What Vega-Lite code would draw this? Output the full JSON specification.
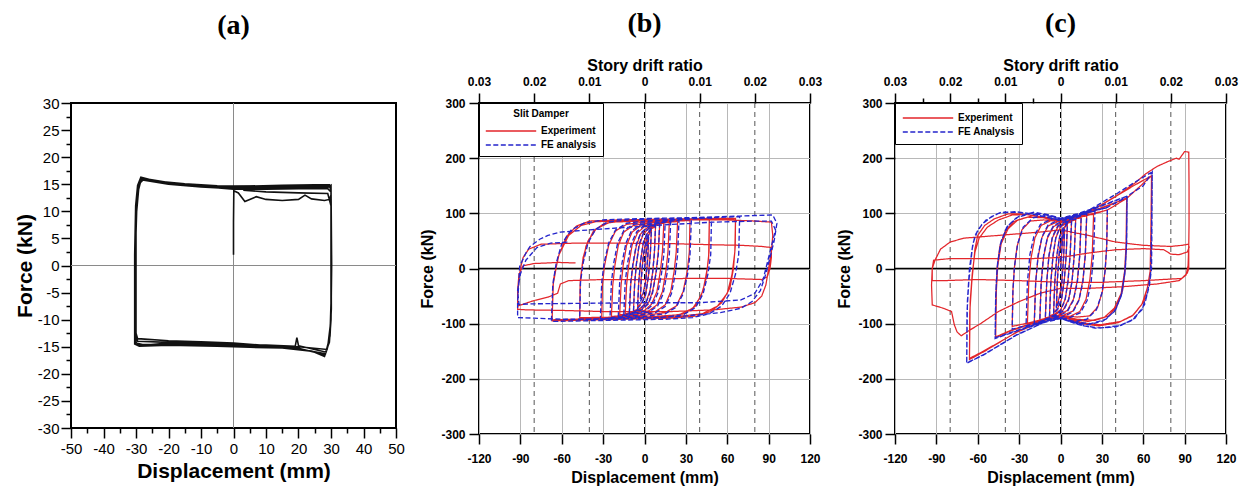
{
"$schema":"https://vega.github.io/schema/vega-lite/v6.json",
"background":"white",
"padding":{"left":13,"top":9,"right":4,"bottom":0},
"spacing":12,
"resolve":{"scale":{"color":"independent","strokeDash":"independent"},"legend":{"color":"independent","strokeDash":"independent"}},
"datasets":{
"a":[{"x":0,"y":2},{"x":0,"y":8},{"x":0.1,"y":13.8},{"x":1.5,"y":13.4},{"x":3.5,"y":11.8},{"x":5,"y":12.2},{"x":7,"y":12.7},{"x":10,"y":12.2},{"x":15,"y":12},{"x":20,"y":12.2},{"x":22,"y":13},{"x":24,"y":12.3},{"x":28,"y":12},{"x":29.5,"y":12.2},{"x":30,"y":13},{"x":30,"y":14.2},
{"x":30,"y":5},{"x":30.1,"y":-5},{"x":29.8,"y":-11},{"x":29,"y":-15},{"x":28,"y":-16.8},{"x":25,"y":-16},{"x":20,"y":-15.3},{"x":15,"y":-15.1},{"x":10,"y":-15},{"x":0,"y":-14.9},{"x":-10,"y":-14.7},{"x":-20,"y":-14.5},{"x":-28,"y":-14.6},{"x":-30,"y":-14.3},{"x":-30.2,"y":-5},{"x":-30.1,"y":5},{"x":-29.8,"y":10},{"x":-29.2,"y":14},{"x":-28.3,"y":16.2},{"x":-27,"y":16},{"x":-20,"y":15.3},{"x":-10,"y":14.7},{"x":0,"y":14.4},{"x":10,"y":14.4},{"x":20,"y":14.5},{"x":29,"y":14.4},{"x":30,"y":14.8},
{"x":30.2,"y":0},{"x":30,"y":-10},{"x":29.5,"y":-14},{"x":28.5,"y":-16},{"x":25,"y":-15.5},{"x":20,"y":-14.8},{"x":19.5,"y":-13.3},{"x":19,"y":-14.9},{"x":10,"y":-14.7},{"x":0,"y":-14.6},{"x":-10,"y":-14.4},{"x":-20,"y":-14.2},{"x":-29.5,"y":-14},{"x":-30,"y":-13},{"x":-30,"y":6},{"x":-29.7,"y":12},{"x":-29,"y":15},{"x":-28,"y":15.8},{"x":-20,"y":15},{"x":-10,"y":14.5},{"x":0,"y":14.2},{"x":10,"y":14.3},{"x":20,"y":14.4},{"x":29.5,"y":14.6},{"x":30,"y":14},
{"x":30.1,"y":-8},{"x":29.7,"y":-13},{"x":28.8,"y":-15.5},{"x":20,"y":-15},{"x":10,"y":-14.9},{"x":0,"y":-14.6},{"x":-10,"y":-14.5},{"x":-20,"y":-14.3},{"x":-29,"y":-14.8},{"x":-30.3,"y":-14},{"x":-30.3,"y":0},{"x":-30,"y":10},{"x":-29.3,"y":14.5},{"x":-28,"y":16},{"x":-25,"y":15.6},{"x":-15,"y":14.9},{"x":0,"y":14.6},{"x":15,"y":14.8},{"x":25,"y":14.9},{"x":29,"y":14.9},{"x":30,"y":14.5},
{"x":30,"y":-9},{"x":29.5,"y":-13.5},{"x":28.3,"y":-16.3},{"x":22,"y":-15.6},{"x":10,"y":-14.8},{"x":0,"y":-14.3},{"x":-10,"y":-14.1},{"x":-20,"y":-13.9},{"x":-29.5,"y":-13.5},{"x":-30,"y":-12.5},{"x":-30,"y":8},{"x":-29.6,"y":13},{"x":-28.8,"y":15.3},{"x":-27.5,"y":15.9},{"x":-20,"y":15.1},{"x":-10,"y":14.6},{"x":0,"y":14.1},{"x":10,"y":14.1},{"x":20,"y":14.2},{"x":29,"y":14.2},{"x":30,"y":13.6},
{"x":30,"y":-10},{"x":29.5,"y":-14.2},{"x":28,"y":-16.5},{"x":24,"y":-15.8},{"x":15,"y":-15.2},{"x":5,"y":-15.1},{"x":-5,"y":-14.9},{"x":-20,"y":-14.7},{"x":-29,"y":-14.9},{"x":-30.4,"y":-14.5},{"x":-30.4,"y":2},{"x":-30.1,"y":11},{"x":-29.5,"y":14.8},{"x":-28.5,"y":16.3},{"x":-24,"y":15.6},{"x":-15,"y":15.1},{"x":-5,"y":14.7},{"x":5,"y":14.6},{"x":20,"y":14.7},{"x":29.5,"y":14.9},{"x":30,"y":14},{"x":30,"y":11},{"x":29,"y":13.3},{"x":20,"y":13.4},{"x":10,"y":13.6},{"x":3,"y":13.9}],
"bE":[{"x":0,"y":0},{"x":2,"y":45},{"x":3,"y":58},{"x":2.5,"y":20},{"x":1,"y":-20},{"x":-1,"y":-45},{"x":-3,"y":-55},{"x":-2.5,"y":-20},{"x":-1,"y":20},{"x":1,"y":48},{"x":3,"y":60},
{"x":5,"y":70},{"x":4.3,"y":30},{"x":3,"y":-10},{"x":1,"y":-45},{"x":-2,"y":-62},{"x":-5,"y":-70},{"x":-4.3,"y":-30},{"x":-3,"y":10},{"x":-1,"y":45},{"x":2,"y":63},{"x":5,"y":72},
{"x":8,"y":76},{"x":7.2,"y":30},{"x":6,"y":-5},{"x":4,"y":-40},{"x":1,"y":-62},{"x":-3,"y":-72},{"x":-8,"y":-77},{"x":-7.2,"y":-30},{"x":-6,"y":5},{"x":-4,"y":40},{"x":-1,"y":62},{"x":3,"y":72},{"x":8,"y":78},
{"x":11,"y":80},{"x":10,"y":30},{"x":8.5,"y":-5},{"x":6,"y":-40},{"x":3,"y":-62},{"x":-2,"y":-74},{"x":-11,"y":-80},{"x":-10,"y":-30},{"x":-8.5,"y":5},{"x":-6,"y":40},{"x":-3,"y":62},{"x":2,"y":74},{"x":11,"y":81},
{"x":14,"y":82},{"x":13,"y":30},{"x":11.5,"y":-5},{"x":9,"y":-42},{"x":5,"y":-65},{"x":0,"y":-76},{"x":-14,"y":-82},{"x":-13,"y":-30},{"x":-11.5,"y":5},{"x":-9,"y":42},{"x":-5,"y":65},{"x":0,"y":76},{"x":14,"y":83},
{"x":18,"y":83},{"x":17,"y":30},{"x":15.5,"y":-5},{"x":13,"y":-42},{"x":9,"y":-66},{"x":3,"y":-77},{"x":-18,"y":-84},{"x":-17,"y":-30},{"x":-15.5,"y":5},{"x":-13,"y":42},{"x":-9,"y":66},{"x":-3,"y":77},{"x":18,"y":84},
{"x":24,"y":85},{"x":23,"y":30},{"x":21.5,"y":-5},{"x":19,"y":-42},{"x":15,"y":-66},{"x":8,"y":-78},{"x":-5,"y":-83},{"x":-24,"y":-87},{"x":-23,"y":-30},{"x":-21.5,"y":5},{"x":-19,"y":42},{"x":-15,"y":66},{"x":-8,"y":78},{"x":5,"y":83},{"x":24,"y":86},
{"x":33,"y":87},{"x":32.5,"y":30},{"x":31,"y":-5},{"x":28,"y":-42},{"x":23,"y":-68},{"x":15,"y":-80},{"x":0,"y":-85},{"x":-31,"y":-89},{"x":-30.5,"y":-30},{"x":-29,"y":5},{"x":-26,"y":42},{"x":-21,"y":68},{"x":-13,"y":80},{"x":0,"y":84},{"x":33,"y":88},
{"x":47,"y":89},{"x":46.8,"y":30},{"x":45.5,"y":0},{"x":42.5,"y":-40},{"x":37,"y":-68},{"x":29,"y":-82},{"x":15,"y":-87},{"x":-47,"y":-90},{"x":-46.7,"y":-30},{"x":-45.5,"y":0},{"x":-42.5,"y":40},{"x":-37,"y":68},{"x":-29,"y":82},{"x":-15,"y":86},{"x":0,"y":87},{"x":47,"y":90},
{"x":46.5,"y":20},{"x":44.5,"y":-20},{"x":41,"y":-50},{"x":35,"y":-72},{"x":25,"y":-84},{"x":0,"y":-88},{"x":-47,"y":-89},{"x":-46.5,"y":-20},{"x":-44.5,"y":20},{"x":-41,"y":50},{"x":-35,"y":72},{"x":-25,"y":84},{"x":0,"y":86},{"x":47,"y":89},
{"x":66,"y":90},{"x":65.8,"y":40},{"x":64.5,"y":0},{"x":62,"y":-35},{"x":56,"y":-62},{"x":48,"y":-78},{"x":38,"y":-86},{"x":20,"y":-90},{"x":-67,"y":-95},{"x":-66.3,"y":-30},{"x":-62.7,"y":20},{"x":-56.6,"y":58},{"x":-49.3,"y":77},{"x":-39.7,"y":86},{"x":-20,"y":88},{"x":0,"y":89},{"x":66,"y":91},
{"x":65.5,"y":30},{"x":63.5,"y":-10},{"x":60,"y":-45},{"x":53,"y":-68},{"x":42,"y":-82},{"x":20,"y":-88},{"x":-67,"y":-93},{"x":-66,"y":-20},{"x":-62,"y":25},{"x":-55,"y":60},{"x":-46,"y":78},{"x":-35,"y":85},{"x":0,"y":87},{"x":30,"y":88},
{"x":60,"y":88},{"x":80,"y":86},{"x":92,"y":84},{"x":93,"y":60},{"x":92,"y":30},{"x":90,"y":0},{"x":88,"y":-30},{"x":85,"y":-50},{"x":80,"y":-62},{"x":70,"y":-70},{"x":50,"y":-75},{"x":20,"y":-78},{"x":-30,"y":-78},{"x":-60,"y":-76},{"x":-85,"y":-75},{"x":-92,"y":-74},{"x":-92,"y":-50},{"x":-91,"y":-20},{"x":-90,"y":0},{"x":-88,"y":20},{"x":-84,"y":35},{"x":-75,"y":44},{"x":-50,"y":46},{"x":-20,"y":46},{"x":20,"y":45},{"x":50,"y":43},{"x":70,"y":42},{"x":85,"y":40},{"x":92,"y":38},{"x":92,"y":20},{"x":91,"y":0},{"x":89,"y":-15},{"x":85,"y":-20},{"x":60,"y":-18},{"x":30,"y":-18},{"x":0,"y":-20},{"x":-30,"y":-20},{"x":-55,"y":-22},{"x":-61,"y":-28},{"x":-63,"y":-45},{"x":-70,"y":-52},{"x":-80,"y":-58},{"x":-92,"y":-68},{"x":-92,"y":-40},{"x":-91,"y":-10},{"x":-88,"y":5},{"x":-80,"y":9},{"x":-62,"y":11},{"x":-50,"y":10}],
"bF":[{"x":0,"y":0},{"x":2,"y":50},{"x":3,"y":62},{"x":2.3,"y":20},{"x":0.8,"y":-25},{"x":-1.2,"y":-50},{"x":-3,"y":-60},{"x":-2.3,"y":-20},{"x":-0.8,"y":25},{"x":1.2,"y":52},{"x":3,"y":63},
{"x":5,"y":72},{"x":4.2,"y":25},{"x":2.8,"y":-15},{"x":0.8,"y":-48},{"x":-2,"y":-64},{"x":-5,"y":-72},{"x":-4.2,"y":-25},{"x":-2.8,"y":15},{"x":-0.8,"y":48},{"x":2,"y":64},{"x":5,"y":74},
{"x":8,"y":78},{"x":7.1,"y":25},{"x":5.8,"y":-10},{"x":3.8,"y":-45},{"x":0.8,"y":-64},{"x":-3,"y":-73},{"x":-8,"y":-79},{"x":-7.1,"y":-25},{"x":-5.8,"y":10},{"x":-3.8,"y":45},{"x":-0.8,"y":64},{"x":3,"y":73},{"x":8,"y":80},
{"x":11,"y":82},{"x":10,"y":25},{"x":8.3,"y":-10},{"x":5.8,"y":-45},{"x":2.8,"y":-64},{"x":-2,"y":-75},{"x":-11,"y":-82},{"x":-10,"y":-25},{"x":-8.3,"y":10},{"x":-5.8,"y":45},{"x":-2.8,"y":64},{"x":2,"y":75},{"x":11,"y":83},
{"x":15,"y":84},{"x":14,"y":25},{"x":12.3,"y":-10},{"x":9.5,"y":-46},{"x":5.5,"y":-67},{"x":0,"y":-78},{"x":-15,"y":-84},{"x":-14,"y":-25},{"x":-12.3,"y":10},{"x":-9.5,"y":46},{"x":-5.5,"y":67},{"x":0,"y":78},{"x":15,"y":85},
{"x":19,"y":85},{"x":18,"y":25},{"x":16.3,"y":-10},{"x":13.5,"y":-46},{"x":9.5,"y":-68},{"x":3,"y":-79},{"x":-19,"y":-86},{"x":-18,"y":-25},{"x":-16.3,"y":10},{"x":-13.5,"y":46},{"x":-9.5,"y":68},{"x":-3,"y":79},{"x":19,"y":86},
{"x":25,"y":87},{"x":24,"y":25},{"x":22.3,"y":-10},{"x":19.5,"y":-46},{"x":15,"y":-69},{"x":8,"y":-80},{"x":-5,"y":-85},{"x":-25,"y":-89},{"x":-24,"y":-25},{"x":-22.3,"y":10},{"x":-19.5,"y":46},{"x":-15,"y":69},{"x":-8,"y":80},{"x":5,"y":85},{"x":25,"y":88},
{"x":34,"y":89},{"x":33,"y":25},{"x":31.3,"y":-10},{"x":28,"y":-46},{"x":23,"y":-70},{"x":15,"y":-82},{"x":0,"y":-87},{"x":-32,"y":-91},{"x":-31,"y":-25},{"x":-29.3,"y":10},{"x":-26,"y":46},{"x":-21,"y":70},{"x":-13,"y":82},{"x":0,"y":86},{"x":34,"y":90},
{"x":48.6,"y":92},{"x":48,"y":25},{"x":46,"y":-10},{"x":42.5,"y":-46},{"x":37,"y":-71},{"x":28,"y":-84},{"x":12,"y":-89},{"x":-47,"y":-92},{"x":-46.4,"y":-25},{"x":-44.5,"y":10},{"x":-41,"y":46},{"x":-35.5,"y":71},{"x":-27,"y":84},{"x":-12,"y":88},{"x":10,"y":90},{"x":48.6,"y":92},
{"x":69,"y":94},{"x":68.3,"y":25},{"x":66,"y":-10},{"x":62,"y":-45},{"x":56,"y":-68},{"x":47,"y":-82},{"x":35,"y":-89},{"x":15,"y":-92},{"x":-67.5,"y":-96},{"x":-66.5,"y":-30},{"x":-64,"y":10},{"x":-60,"y":45},{"x":-53,"y":70},{"x":-44,"y":82},{"x":-30,"y":88},{"x":-10,"y":90},{"x":30,"y":92},{"x":69,"y":95},
{"x":80,"y":96},{"x":93,"y":97},{"x":96,"y":82},{"x":94,"y":50},{"x":91,"y":20},{"x":88,"y":-10},{"x":84,"y":-40},{"x":78,"y":-60},{"x":70,"y":-72},{"x":55,"y":-80},{"x":30,"y":-86},{"x":0,"y":-90},{"x":-30,"y":-92},{"x":-60,"y":-92},{"x":-80,"y":-90},{"x":-92,"y":-89},{"x":-92,"y":-60},{"x":-91,"y":-20},{"x":-90.5,"y":4},{"x":-86,"y":28},{"x":-83,"y":40},{"x":-76,"y":53},{"x":-70,"y":60},{"x":-61,"y":66},{"x":-40,"y":70},{"x":-10,"y":75},{"x":20,"y":80},{"x":50,"y":84},{"x":80,"y":86},{"x":92,"y":86},{"x":95,"y":70},{"x":92,"y":40},{"x":89,"y":10},{"x":86,"y":-20},{"x":80,"y":-45},{"x":70,"y":-57},{"x":40,"y":-62},{"x":0,"y":-62},{"x":-40,"y":-63},{"x":-80,"y":-64},{"x":-91,"y":-65},{"x":-92,"y":-40},{"x":-90,"y":-10},{"x":-86,"y":15},{"x":-78,"y":38},{"x":-68,"y":46},{"x":-55,"y":48}],
"cE":[{"x":0,"y":0},{"x":1.5,"y":50},{"x":3,"y":70},{"x":2.3,"y":20},{"x":0.8,"y":-30},{"x":-1.5,"y":-58},{"x":-3,"y":-70},{"x":-2.3,"y":-20},{"x":-0.8,"y":30},{"x":1.5,"y":60},{"x":3,"y":74},
{"x":5,"y":80},{"x":4.2,"y":25},{"x":2.8,"y":-20},{"x":0.8,"y":-55},{"x":-2,"y":-72},{"x":-5,"y":-80},{"x":-4.2,"y":-25},{"x":-2.8,"y":20},{"x":-0.8,"y":55},{"x":2,"y":72},{"x":5,"y":82},
{"x":8,"y":84},{"x":7,"y":25},{"x":5.5,"y":-20},{"x":3.5,"y":-55},{"x":0,"y":-75},{"x":-4,"y":-82},{"x":-8,"y":-86},{"x":-7,"y":-25},{"x":-5.5,"y":20},{"x":-3.5,"y":55},{"x":0,"y":75},{"x":4,"y":82},{"x":8,"y":86},
{"x":11,"y":88},{"x":10,"y":25},{"x":8.5,"y":-20},{"x":6,"y":-55},{"x":2,"y":-75},{"x":-4,"y":-84},{"x":-11,"y":-90},{"x":-10,"y":-25},{"x":-8.5,"y":20},{"x":-6,"y":55},{"x":-2,"y":75},{"x":4,"y":84},{"x":11,"y":90},
{"x":15,"y":92},{"x":14,"y":25},{"x":12.3,"y":-20},{"x":9.5,"y":-55},{"x":5,"y":-76},{"x":-2,"y":-85},{"x":-15,"y":-93},{"x":-14,"y":-25},{"x":-12.3,"y":20},{"x":-9.5,"y":55},{"x":-5,"y":76},{"x":2,"y":85},{"x":15,"y":94},
{"x":19,"y":95},{"x":18,"y":25},{"x":16.3,"y":-20},{"x":13.5,"y":-56},{"x":9,"y":-77},{"x":1,"y":-86},{"x":-10,"y":-90},{"x":-19,"y":-96},{"x":-18,"y":-25},{"x":-16.3,"y":20},{"x":-13.5,"y":56},{"x":-9,"y":77},{"x":-1,"y":86},{"x":10,"y":90},{"x":19,"y":97},
{"x":24,"y":98},{"x":23,"y":25},{"x":21.3,"y":-20},{"x":18.5,"y":-56},{"x":14,"y":-78},{"x":6,"y":-88},{"x":-5,"y":-90},{"x":-15,"y":-96},{"x":-24,"y":-100},{"x":-23,"y":-25},{"x":-21.3,"y":20},{"x":-18.5,"y":56},{"x":-14,"y":78},{"x":-6,"y":88},{"x":5,"y":90},{"x":15,"y":95},{"x":24,"y":100},
{"x":34,"y":106},{"x":33.5,"y":40},{"x":32.5,"y":0},{"x":30.5,"y":-40},{"x":27,"y":-70},{"x":21,"y":-86},{"x":12,"y":-88},{"x":0,"y":-85},{"x":-12,"y":-92},{"x":-24,"y":-99},{"x":-35,"y":-105},{"x":-34.5,"y":-40},{"x":-33.5,"y":0},{"x":-31.5,"y":40},{"x":-28,"y":70},{"x":-22,"y":86},{"x":-12,"y":88},{"x":0,"y":85},{"x":12,"y":92},{"x":24,"y":99},{"x":34,"y":106},
{"x":48,"y":127},{"x":47.8,"y":50},{"x":47,"y":0},{"x":45,"y":-40},{"x":41,"y":-68},{"x":35,"y":-86},{"x":25,"y":-94},{"x":12,"y":-92},{"x":0,"y":-86},{"x":-12,"y":-94},{"x":-24,"y":-102},{"x":-36,"y":-112},{"x":-47,"y":-124},{"x":-46.8,"y":-50},{"x":-46,"y":0},{"x":-44,"y":40},{"x":-40,"y":68},{"x":-34,"y":85},{"x":-24,"y":93},{"x":-12,"y":92},{"x":0,"y":86},{"x":12,"y":94},{"x":24,"y":104},{"x":36,"y":115},{"x":48,"y":128},
{"x":47.5,"y":40},{"x":46.5,"y":-5},{"x":44,"y":-45},{"x":39,"y":-72},{"x":32,"y":-88},{"x":20,"y":-96},{"x":8,"y":-92},{"x":0,"y":-86},{"x":-12,"y":-94},{"x":-24,"y":-103},{"x":-36,"y":-113},{"x":-47,"y":-125},{"x":-46.5,"y":-40},{"x":-45.5,"y":5},{"x":-43,"y":45},{"x":-38,"y":72},{"x":-31,"y":88},{"x":-20,"y":96},{"x":-8,"y":92},{"x":0,"y":86},{"x":12,"y":95},{"x":24,"y":105},{"x":36,"y":116},{"x":48,"y":127},
{"x":66,"y":168},{"x":65.8,"y":80},{"x":65.5,"y":0},{"x":64,"y":-24},{"x":60.5,"y":-60},{"x":53,"y":-84},{"x":43.5,"y":-96},{"x":29,"y":-102},{"x":17,"y":-99},{"x":5,"y":-90},{"x":0,"y":-85},{"x":-9.5,"y":-90},{"x":-19,"y":-102},{"x":-31,"y":-114},{"x":-43,"y":-132},{"x":-55,"y":-150},{"x":-66,"y":-165},{"x":-65.8,"y":-80},{"x":-64.3,"y":-24},{"x":-62,"y":36},{"x":-60,"y":60},{"x":-55,"y":78},{"x":-48,"y":90},{"x":-38,"y":99},{"x":-29,"y":99},{"x":-19,"y":96},{"x":-9.5,"y":90},{"x":0,"y":84},{"x":10,"y":90},{"x":20,"y":102},{"x":29,"y":114},{"x":41,"y":132},{"x":53,"y":150},{"x":63,"y":164},{"x":66,"y":168},
{"x":65.5,"y":60},{"x":65,"y":-5},{"x":63,"y":-35},{"x":59,"y":-65},{"x":52,"y":-86},{"x":42,"y":-98},{"x":28,"y":-104},{"x":15,"y":-100},{"x":4,"y":-90},{"x":0,"y":-86},{"x":-10,"y":-91},{"x":-20,"y":-103},{"x":-32,"y":-116},{"x":-44,"y":-133},{"x":-56,"y":-150},{"x":-66,"y":-163},
{"x":-65.5,"y":-60},{"x":-64,"y":-10},{"x":-62,"y":30},{"x":-59,"y":55},{"x":-53,"y":75},{"x":-45,"y":88},{"x":-35,"y":97},{"x":-25,"y":98},{"x":-12,"y":93},{"x":0,"y":86},{"x":10,"y":92},{"x":20,"y":104},{"x":30,"y":116},{"x":42,"y":134},{"x":54,"y":155},{"x":62,"y":172},{"x":70,"y":185},{"x":78,"y":194},{"x":84,"y":200},{"x":86,"y":198},{"x":88,"y":205},{"x":90,"y":212},{"x":93,"y":211},
{"x":93.2,"y":150},{"x":93.2,"y":80},{"x":93,"y":42},{"x":92.5,"y":5},{"x":91,"y":-12},{"x":86,"y":-22},{"x":70,"y":-28},{"x":45,"y":-33},{"x":20,"y":-36},{"x":0,"y":-36},{"x":-15,"y":-45},{"x":-30,"y":-60},{"x":-45,"y":-78},{"x":-58,"y":-100},{"x":-66,"y":-112},{"x":-72,"y":-122},{"x":-75,"y":-115},{"x":-77,"y":-102},{"x":-79,"y":-78},{"x":-85,"y":-72},{"x":-93,"y":-66},{"x":-93.5,"y":-30},{"x":-93,"y":0},{"x":-91,"y":15},{"x":-87,"y":35},{"x":-80,"y":48},{"x":-70,"y":55},{"x":-55,"y":58},{"x":-35,"y":62},{"x":-15,"y":66},{"x":0,"y":70},{"x":20,"y":60},{"x":40,"y":48},{"x":60,"y":42},{"x":80,"y":40},{"x":88,"y":42},{"x":93,"y":44},
{"x":93,"y":0},{"x":92,"y":-8},{"x":88,"y":-18},{"x":60,"y":-22},{"x":30,"y":-25},{"x":0,"y":-25},{"x":-30,"y":-22},{"x":-60,"y":-20},{"x":-85,"y":-22},{"x":-93,"y":-22},{"x":-93,"y":0},{"x":-92,"y":15},{"x":-80,"y":18},{"x":-50,"y":18},{"x":-20,"y":18},{"x":0,"y":20},{"x":20,"y":28},{"x":40,"y":34},{"x":60,"y":36},{"x":75,"y":34},{"x":80,"y":26},{"x":86,"y":25},{"x":92,"y":30},{"x":93.5,"y":40}],
"cF":[{"x":0,"y":0},{"x":1.5,"y":55},{"x":3,"y":72},{"x":2.2,"y":20},{"x":0.7,"y":-35},{"x":-1.5,"y":-62},{"x":-3,"y":-72},{"x":-2.2,"y":-20},{"x":-0.7,"y":35},{"x":1.5,"y":62},{"x":3,"y":75},
{"x":5,"y":82},{"x":4.1,"y":25},{"x":2.6,"y":-25},{"x":0.6,"y":-58},{"x":-2,"y":-74},{"x":-5,"y":-82},{"x":-4.1,"y":-25},{"x":-2.6,"y":25},{"x":-0.6,"y":58},{"x":2,"y":74},{"x":5,"y":84},
{"x":8,"y":86},{"x":7,"y":25},{"x":5.4,"y":-25},{"x":3.2,"y":-58},{"x":0,"y":-77},{"x":-4,"y":-84},{"x":-8,"y":-88},{"x":-7,"y":-25},{"x":-5.4,"y":25},{"x":-3.2,"y":58},{"x":0,"y":77},{"x":4,"y":84},{"x":8,"y":88},
{"x":11,"y":90},{"x":10,"y":25},{"x":8.3,"y":-25},{"x":5.8,"y":-58},{"x":2,"y":-77},{"x":-4,"y":-86},{"x":-11,"y":-92},{"x":-10,"y":-25},{"x":-8.3,"y":25},{"x":-5.8,"y":58},{"x":-2,"y":77},{"x":4,"y":86},{"x":11,"y":92},
{"x":15,"y":95},{"x":14,"y":25},{"x":12.2,"y":-25},{"x":9.3,"y":-58},{"x":5,"y":-78},{"x":-2,"y":-87},{"x":-15,"y":-96},{"x":-14,"y":-25},{"x":-12.2,"y":25},{"x":-9.3,"y":58},{"x":-5,"y":78},{"x":2,"y":87},{"x":15,"y":97},
{"x":19,"y":99},{"x":18,"y":25},{"x":16.2,"y":-25},{"x":13.3,"y":-58},{"x":9,"y":-79},{"x":1,"y":-88},{"x":-10,"y":-92},{"x":-19,"y":-100},{"x":-18,"y":-25},{"x":-16.2,"y":25},{"x":-13.3,"y":58},{"x":-9,"y":79},{"x":-1,"y":88},{"x":10,"y":93},{"x":19,"y":101},
{"x":25,"y":104},{"x":24,"y":25},{"x":22.2,"y":-25},{"x":19.3,"y":-58},{"x":14.5,"y":-80},{"x":6,"y":-90},{"x":-5,"y":-92},{"x":-15,"y":-99},{"x":-25,"y":-105},{"x":-24,"y":-25},{"x":-22.2,"y":25},{"x":-19.3,"y":58},{"x":-14.5,"y":80},{"x":-6,"y":90},{"x":5,"y":92},{"x":15,"y":99},{"x":25,"y":106},
{"x":34,"y":110},{"x":33.5,"y":40},{"x":32.3,"y":-5},{"x":30,"y":-45},{"x":26,"y":-75},{"x":19,"y":-92},{"x":10,"y":-96},{"x":0,"y":-90},{"x":-12,"y":-96},{"x":-24,"y":-103},{"x":-35,"y":-110},{"x":-34.5,"y":-40},{"x":-33.3,"y":5},{"x":-31,"y":45},{"x":-27,"y":75},{"x":-20,"y":92},{"x":-10,"y":96},{"x":0,"y":90},{"x":12,"y":96},{"x":24,"y":104},{"x":34,"y":111},
{"x":48.3,"y":130},{"x":48,"y":50},{"x":47,"y":0},{"x":44.5,"y":-45},{"x":40,"y":-75},{"x":33,"y":-92},{"x":22,"y":-100},{"x":10,"y":-97},{"x":0,"y":-90},{"x":-12,"y":-97},{"x":-24,"y":-106},{"x":-36,"y":-116},{"x":-47.4,"y":-126},{"x":-47,"y":-50},{"x":-46,"y":0},{"x":-43.5,"y":45},{"x":-39,"y":75},{"x":-32,"y":92},{"x":-21,"y":100},{"x":-10,"y":97},{"x":0,"y":90},{"x":12,"y":98},{"x":24,"y":108},{"x":36,"y":119},{"x":48.3,"y":131},
{"x":47.8,"y":40},{"x":46.6,"y":-10},{"x":44,"y":-50},{"x":39,"y":-78},{"x":31,"y":-95},{"x":20,"y":-102},{"x":8,"y":-97},{"x":0,"y":-91},{"x":-12,"y":-98},{"x":-24,"y":-107},{"x":-36,"y":-117},{"x":-47.4,"y":-127},{"x":-46.8,"y":-40},{"x":-45.6,"y":10},{"x":-43,"y":50},{"x":-38,"y":78},{"x":-30,"y":95},{"x":-19,"y":102},{"x":-8,"y":97},{"x":0,"y":91},{"x":12,"y":99},{"x":24,"y":109},{"x":36,"y":120},{"x":48.3,"y":131},
{"x":60,"y":150},{"x":66.5,"y":175},{"x":66.3,"y":80},{"x":66,"y":0},{"x":64.5,"y":-30},{"x":61,"y":-65},{"x":54,"y":-90},{"x":44,"y":-103},{"x":29,"y":-108},{"x":17,"y":-104},{"x":5,"y":-94},{"x":0,"y":-89},{"x":-9.5,"y":-94},{"x":-19,"y":-106},{"x":-31,"y":-119},{"x":-43,"y":-137},{"x":-55,"y":-155},{"x":-68,"y":-172},{"x":-67.8,"y":-80},{"x":-66.5,"y":-24},{"x":-64,"y":36},{"x":-62,"y":60},{"x":-57,"y":80},{"x":-50,"y":94},{"x":-43,"y":102},{"x":-32,"y":102},{"x":-21,"y":99},{"x":-10,"y":93},{"x":0,"y":87},{"x":10,"y":93},{"x":20,"y":105},{"x":29,"y":118},{"x":41,"y":136},{"x":53,"y":155},{"x":63,"y":170},{"x":66.5,"y":175},
{"x":66,"y":60},{"x":65.3,"y":-10},{"x":63,"y":-45},{"x":59,"y":-75},{"x":51,"y":-95},{"x":40,"y":-106},{"x":25,"y":-108},{"x":12,"y":-101},{"x":0,"y":-90},{"x":-10,"y":-95},{"x":-20,"y":-107},{"x":-32,"y":-121},{"x":-44,"y":-139},{"x":-56,"y":-157},{"x":-68,"y":-171},{"x":-67.5,"y":-60},{"x":-66,"y":0},{"x":-63.5,"y":45},{"x":-60,"y":70},{"x":-54,"y":88},{"x":-45,"y":100},{"x":-33,"y":103},{"x":-21,"y":99},{"x":-10,"y":93},{"x":0,"y":87}]
},
"hconcat":[
{
"width":325,"height":325,
"title":{"text":"(a)","offset":56},
"resolve":{"axis":{"x":"independent","y":"independent"}},
"layer":[
{"data":{"values":[{"y":0}]},"mark":{"type":"rule","color":"#8a8a8a","strokeWidth":1},"encoding":{"y":{"field":"y","type":"quantitative","scale":{"domain":[-30,30],"nice":false,"zero":false},"axis":{"orient":"left","values":[-27.5,-22.5,-17.5,-12.5,-7.5,-2.5,2.5,7.5,12.5,17.5,22.5,27.5],"labels":false,"title":null,"tickSize":5,"grid":false}}}},
{"data":{"values":[{"x":0}]},"mark":{"type":"rule","color":"#8a8a8a","strokeWidth":1},"encoding":{"x":{"field":"x","type":"quantitative","scale":{"domain":[-50,50],"nice":false,"zero":false},"axis":{"orient":"bottom","values":[-45,-35,-25,-15,-5,5,15,25,35,45],"labels":false,"title":null,"tickSize":5,"grid":false}}}},
{"data":{"name":"a"},"mark":{"type":"line","color":"#111111","strokeWidth":1.6},
"encoding":{
"x":{"field":"x","type":"quantitative","title":"Displacement (mm)","scale":{"domain":[-50,50],"nice":false,"zero":false},
 "axis":{"orient":"bottom","values":[-50,-40,-30,-20,-10,0,10,20,30,40,50],"labelExpr":"'' + datum.value","tickSize":10,"labelOverlap":false,"labelFontSize":15,"labelFontWeight":"normal","titleFontSize":21,"labelPadding":3,"titlePadding":4}},
"y":{"field":"y","type":"quantitative","title":"Force (kN)","scale":{"domain":[-30,30],"nice":false,"zero":false},
 "axis":{"orient":"left","values":[-30,-25,-20,-15,-10,-5,0,5,10,15,20,25,30],"labelExpr":"'' + datum.value","tickSize":10,"labelOverlap":false,"labelFontSize":15,"labelFontWeight":"normal","titleFontSize":21,"labelPadding":2,"titlePadding":2}},
"order":{"value":null}}}
]
},
{
"width":331,"height":331,
"title":{"text":"(b)","offset":19},
"resolve":{"scale":{"x":"independent"},"axis":{"x":"independent"}},
"layer":[
{"data":{"values":[{"d":-0.02},{"d":-0.01},{"d":0.01},{"d":0.02}]},"mark":{"type":"rule","color":"#555555","strokeWidth":1,"strokeDash":[5,4]},
 "encoding":{"x":{"field":"d","type":"quantitative","scale":{"domain":[-0.03,0.03],"nice":false,"zero":false},
 "axis":{"orient":"top","title":"Story drift ratio","values":[-0.03,-0.02,-0.01,0,0.01,0.02,0.03],"labelExpr":"datum.value == 0 ? '0' : format(abs(datum.value), '.2f')","grid":false,"tickSize":10,"labelPadding":5,"titlePadding":2,"labelOverlap":false}}}},
{"layer":[
{"data":{"values":[{"y":0}]},"mark":{"type":"rule","color":"black","strokeWidth":1.3},"encoding":{"y":{"field":"y","type":"quantitative","title":"Force (kN)","scale":{"domain":[-300,300],"nice":false,"zero":false}}}},
{"data":{"values":[{"x":0}]},"mark":{"type":"rule","color":"black","strokeWidth":1,"strokeDash":[6,3]},"encoding":{"x":{"field":"x","type":"quantitative","title":"Displacement (mm)","scale":{"domain":[-120,120],"nice":false,"zero":false}}}},
{"data":{"name":"bE"},"mark":{"type":"line","strokeWidth":1.25},
"encoding":{
"x":{"field":"x","type":"quantitative","title":"Displacement (mm)","scale":{"domain":[-120,120],"nice":false,"zero":false},"axis":{"values":[-120,-90,-60,-30,0,30,60,90,120],"labelExpr":"'' + datum.value","grid":true,"tickSize":10,"labelPadding":9,"titlePadding":5,"labelOverlap":false}},
"y":{"field":"y","type":"quantitative","title":"Force (kN)","scale":{"domain":[-300,300],"nice":false,"zero":false},"axis":{"values":[-300,-200,-100,0,100,200,300],"labelExpr":"'' + datum.value","grid":true,"tickSize":10,"labelPadding":4,"titlePadding":5,"labelOverlap":false}},
"color":{"datum":"Experiment","type":"nominal","scale":{"domain":["Experiment","FE analysis"],"range":["#e3262b","#2525cc"]},
 "legend":{"title":"Slit Damper","orient":"top-left","offset":0,"titleAnchor":"middle","titleFontSize":10,"titleFontWeight":"bold","titleFont":"Liberation Sans","titleColor":"black","labelFontSize":10,"labelFontWeight":"bold","labelFont":"Liberation Sans","labelColor":"black","symbolType":"M-3.6,0H3.6","symbolSize":196,"symbolStrokeWidth":1.5,"symbolOffset":18,"labelOffset":22,"strokeColor":"black","fillColor":"white","padding":6,"rowPadding":1,"titlePadding":4}},
"strokeDash":{"datum":"Experiment","type":"nominal","scale":{"domain":["Experiment","FE analysis"],"range":[[1,0],[5,2.5]]},
 "legend":{"title":"Slit Damper","orient":"top-left","offset":0,"titleAnchor":"middle","titleFontSize":10,"titleFontWeight":"bold","titleFont":"Liberation Sans","titleColor":"black","labelFontSize":10,"labelFontWeight":"bold","labelFont":"Liberation Sans","labelColor":"black","symbolType":"M-3.6,0H3.6","symbolSize":196,"symbolStrokeWidth":1.5,"symbolOffset":18,"labelOffset":22,"strokeColor":"black","fillColor":"white","padding":6,"rowPadding":1,"titlePadding":4}},
"order":{"value":null}}},
{"data":{"name":"bF"},"mark":{"type":"line","strokeWidth":1.35},
"encoding":{
"x":{"field":"x","type":"quantitative","title":"Displacement (mm)"},
"y":{"field":"y","type":"quantitative","title":"Force (kN)"},
"color":{"datum":"FE analysis","type":"nominal"},
"strokeDash":{"datum":"FE analysis","type":"nominal"},
"order":{"value":null}}}
]}
]
},
{
"width":331,"height":331,
"title":{"text":"(c)","offset":19},
"resolve":{"scale":{"x":"independent"},"axis":{"x":"independent"}},
"layer":[
{"data":{"values":[{"d":-0.02},{"d":-0.01},{"d":0.01},{"d":0.02}]},"mark":{"type":"rule","color":"#555555","strokeWidth":1,"strokeDash":[5,4]},
 "encoding":{"x":{"field":"d","type":"quantitative","scale":{"domain":[-0.03,0.03],"nice":false,"zero":false},
 "axis":{"orient":"top","title":"Story drift ratio","values":[-0.03,-0.025,-0.02,-0.015,-0.01,-0.005,0,0.01,0.02,0.03],"labelExpr":"round(datum.value*200) % 2 != 0 ? '' : (datum.value == 0 ? '0' : format(abs(datum.value), '.2f'))","tickSize":{"condition":{"test":"round(datum.value*200) % 2 != 0","value":5},"value":10},"grid":false,"labelPadding":5,"titlePadding":2,"labelOverlap":false}}}},
{"layer":[
{"data":{"values":[{"y":0}]},"mark":{"type":"rule","color":"black","strokeWidth":1.3},"encoding":{"y":{"field":"y","type":"quantitative","title":"Force (kN)","scale":{"domain":[-300,300],"nice":false,"zero":false}}}},
{"data":{"values":[{"x":0}]},"mark":{"type":"rule","color":"black","strokeWidth":1,"strokeDash":[6,3]},"encoding":{"x":{"field":"x","type":"quantitative","title":"Displacement (mm)","scale":{"domain":[-120,120],"nice":false,"zero":false}}}},
{"data":{"name":"cE"},"mark":{"type":"line","strokeWidth":1.25},
"encoding":{
"x":{"field":"x","type":"quantitative","title":"Displacement (mm)","scale":{"domain":[-120,120],"nice":false,"zero":false},"axis":{"values":[-120,-90,-60,-30,0,30,60,90,120],"labelExpr":"'' + datum.value","grid":true,"tickSize":10,"labelPadding":9,"titlePadding":5,"labelOverlap":false}},
"y":{"field":"y","type":"quantitative","title":"Force (kN)","scale":{"domain":[-300,300],"nice":false,"zero":false},"axis":{"values":[-300,-200,-100,0,100,200,300],"labelExpr":"'' + datum.value","grid":true,"tickSize":10,"labelPadding":3,"titlePadding":5,"labelOverlap":false}},
"color":{"datum":"Experiment","type":"nominal","scale":{"domain":["Experiment","FE Analysis"],"range":["#e3262b","#2525cc"]},
 "legend":{"title":null,"orient":"top-left","offset":0,"labelFontSize":10,"labelFontWeight":"bold","labelFont":"Liberation Sans","labelColor":"black","symbolType":"M-3.6,0H3.6","symbolSize":196,"symbolStrokeWidth":1.5,"symbolOffset":18,"labelOffset":22,"strokeColor":"black","fillColor":"white","padding":7,"rowPadding":1}},
"strokeDash":{"datum":"Experiment","type":"nominal","scale":{"domain":["Experiment","FE Analysis"],"range":[[1,0],[5,2.5]]},
 "legend":{"title":null,"orient":"top-left","offset":0,"labelFontSize":10,"labelFontWeight":"bold","labelFont":"Liberation Sans","labelColor":"black","symbolType":"M-3.6,0H3.6","symbolSize":196,"symbolStrokeWidth":1.5,"symbolOffset":18,"labelOffset":22,"strokeColor":"black","fillColor":"white","padding":7,"rowPadding":1}},
"order":{"value":null}}},
{"data":{"name":"cF"},"mark":{"type":"line","strokeWidth":1.35},
"encoding":{
"x":{"field":"x","type":"quantitative","title":"Displacement (mm)"},
"y":{"field":"y","type":"quantitative","title":"Force (kN)"},
"color":{"datum":"FE Analysis","type":"nominal"},
"strokeDash":{"datum":"FE Analysis","type":"nominal"},
"order":{"value":null}}}
]}
]
}
],
"config":{
"view":{"stroke":"black","strokeWidth":2},
"title":{"font":"Liberation Serif","fontSize":28,"fontWeight":"bold","color":"black","frame":"group","anchor":"middle"},
"axis":{"domain":false,"tickColor":"black","tickWidth":1.5,"labelColor":"black","labelFont":"Liberation Sans","labelFontSize":12,"labelFontWeight":"bold","titleFont":"Liberation Sans","titleFontSize":16,"titleFontWeight":"bold","titleColor":"black","gridColor":"#b8b8b8","gridWidth":1,"grid":false,"labelOverlap":false,"labelFlush":false}
}
}
